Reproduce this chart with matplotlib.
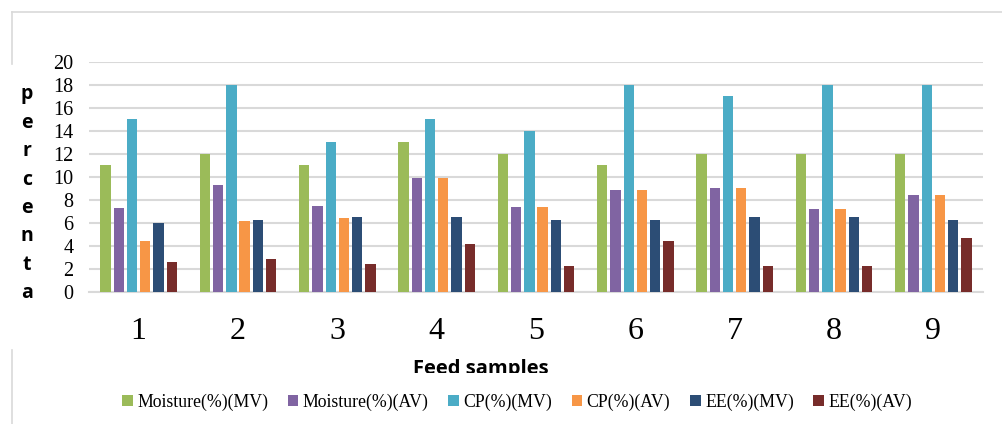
import matplotlib.pyplot as plt
import numpy as np
from matplotlib.patches import Patch, Rectangle
from matplotlib.lines import Line2D

samples = ["1", "2", "3", "4", "5", "6", "7", "8", "9"]
series_names = ["Moisture(%)(MV)", "Moisture(%)(AV)", "CP(%)(MV)", "CP(%)(AV)", "EE(%)(MV)", "EE(%)(AV)"]
moisture_mv = [11, 12, 11, 13, 12, 11, 12, 12, 12]
moisture_av = [7.3, 9.3, 7.5, 9.9, 7.4, 8.9, 9.0, 7.2, 8.4]
cp_mv = [15, 18, 13, 15, 14, 18, 17, 18, 18]
cp_av = [4.4, 6.2, 6.4, 9.9, 7.4, 8.9, 9.0, 7.2, 8.4]
ee_mv = [6.0, 6.3, 6.5, 6.5, 6.3, 6.3, 6.5, 6.5, 6.3]
ee_av = [2.6, 2.9, 2.4, 4.2, 2.3, 4.4, 2.3, 2.3, 4.7]

COLORS = ["#9BBB59", "#8064A2", "#4BACC6", "#F79646", "#2C4D75", "#772C2A"]
GRID = "#d9d9d9"
SERIF = "Liberation Serif"
SANS = "Open Sans"

W, H = 1002, 424
fig = plt.figure(figsize=(W / 100, H / 100), dpi=100)
fig.patch.set_facecolor("white")

ax = fig.add_axes([89 / W, (H - 292) / H, (983 - 89) / W, (292 - 62) / H])

x = np.arange(len(samples))
step = 0.133
bar_w = 0.104
all_series = [moisture_mv, moisture_av, cp_mv, cp_av, ee_mv, ee_av]
for i, (vals, color) in enumerate(zip(all_series, COLORS)):
    ax.bar(x + (i - 2.5) * step, vals, width=bar_w, color=color, zorder=3)

ax.set_xlim(-0.5, len(samples) - 0.5)
ax.set_ylim(0, 20)
ax.set_yticks(np.arange(0, 21, 2))
ax.set_xticks(x)
ax.set_xticklabels(samples, fontsize=23, fontfamily=SERIF)
for lbl in ax.get_yticklabels():
    lbl.set_fontfamily(SERIF)
    lbl.set_fontsize(14.5)
ax.tick_params(axis="y", length=0, pad=11)
ax.tick_params(axis="x", length=0, pad=18)
ax.yaxis.grid(True, color=GRID, linewidth=1.5, zorder=0)
ax.set_axisbelow(True)
for side in ["top", "right", "left"]:
    ax.spines[side].set_visible(False)
ax.spines["bottom"].set_color(GRID)
ax.spines["bottom"].set_linewidth(1.5)

# vertical axis title, one letter per line
for k, ch in enumerate("percenta"):
    fig.text(27 / W, 1 - (94 + k * 28.5) / H, ch, fontsize=14, fontweight="bold",
             fontfamily=SANS, ha="center", va="center")

# chart border pieces
fig.add_artist(Line2D([12 / W, 1], [1 - 12 / H, 1 - 12 / H], color=GRID, linewidth=1.2))
fig.add_artist(Line2D([12 / W, 12 / W], [1 - 12 / H, 1 - 64 / H], color=GRID, linewidth=1.2))
fig.add_artist(Line2D([12 / W, 12 / W], [1 - 350 / H, 0], color=GRID, linewidth=1.2))

# x-axis title, cut off along its lower edge
fig.text(481 / W, 1 - 374 / H, "Feed samples", fontsize=14.5, fontweight="bold",
         fontfamily=SANS, ha="center", va="baseline")
fig.add_artist(Rectangle((60 / W, 1 - 387 / H), 900 / W, 14.5 / H, transform=fig.transFigure,
                         facecolor="white", edgecolor="none", zorder=5))

handles = [Patch(facecolor=c, edgecolor="none") for c in COLORS]
fig.legend(handles, series_names, loc="center", bbox_to_anchor=(517 / W, 1 - 402 / H),
           ncol=6, frameon=False, prop={"family": SERIF, "size": 12.8},
           handlelength=0.6, handleheight=0.6, handletextpad=0.25, columnspacing=1.1)

fig.savefig("out.png", dpi=100, facecolor="white")
plt.close(fig)
